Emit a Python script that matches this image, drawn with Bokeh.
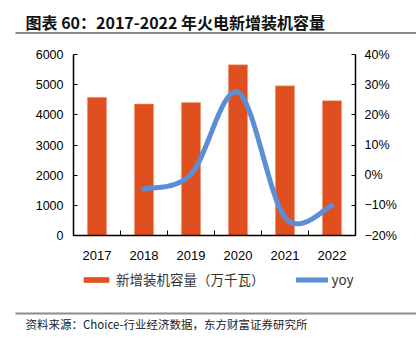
from bokeh.plotting import figure
from bokeh.layouts import column
from bokeh.models import (Range1d, LinearAxis, FixedTicker, Legend, LegendItem, ColumnDataSource)
from bokeh.core.properties import value
from bokeh.embed import file_html
from bokeh.resources import INLINE
import numpy as np

# ---- data ----
years = ["2017", "2018", "2019", "2020", "2021", "2022"]
capacity = [4580, 4360, 4410, 5660, 4960, 4470]          # 新增装机容量（万千瓦）
yoy_years = ["2018", "2019", "2020", "2021", "2022"]
yoy = [-4.6, 0.3, 27.5, -14.0, -10.1]                     # yoy (%)
left_ticks = [0, 1000, 2000, 3000, 4000, 5000, 6000]
right_ticks = [-20, -10, 0, 10, 20, 30, 40]
right_tick_labels = ["\u221220%", "\u221210%", "0%", "10%", "20%", "30%", "40%"]

title_text = "图表 60：2017-2022 年火电新增装机容量"
source_text = "资料来源：Choice-行业经济数据，东方财富证券研究所"
bar_name = "新增装机容量（万千瓦）"
line_name = "yoy"

BAR_COLOR = "#DF4F1F"
LINE_COLOR = "#5B8ED6"
FONT = "Liberation Sans"
CJK = "Noto Sans CJK SC"
W = 416

xpos = [years.index(y) + 0.5 for y in years]
yoy_x = [years.index(y) + 0.5 for y in yoy_years]


def smooth(xs, ys, n=30):
    """Excel-style (Catmull-Rom Bezier) smoothing of the given points, for drawing."""
    P = list(zip(xs, ys))
    out_x, out_y = [], []
    for i in range(len(P) - 1):
        p0 = P[i - 1] if i > 0 else P[i]
        p1 = P[i]
        p2 = P[i + 1]
        p3 = P[i + 2] if i + 2 < len(P) else P[i + 1]
        c1 = (p1[0] + (p2[0] - p0[0]) / 6, p1[1] + (p2[1] - p0[1]) / 6)
        c2 = (p2[0] - (p3[0] - p1[0]) / 6, p2[1] - (p3[1] - p1[1]) / 6)
        t = np.linspace(0, 1, n, endpoint=(i == len(P) - 2))
        a = (1 - t) ** 3
        b = 3 * (1 - t) ** 2 * t
        c = 3 * (1 - t) * t ** 2
        d = t ** 3
        out_x.extend(a * p1[0] + b * c1[0] + c * c2[0] + d * p2[0])
        out_y.extend(a * p1[1] + b * c1[1] + c * c2[1] + d * p2[1])
    return out_x, out_y


def blank(height):
    f = figure(width=W, height=height, x_range=Range1d(0, W), y_range=Range1d(height, 0),
               toolbar_location=None, output_backend="svg", frame_align=False,
               min_border=0, min_border_left=0, min_border_right=0,
               min_border_top=0, min_border_bottom=0)
    f.axis.visible = False
    f.grid.visible = False
    f.outline_line_color = None
    f.background_fill_color = "white"
    f.border_fill_color = "white"
    return f


# ---- title strip ----
top = blank(40)
top.text(x=[25], y=[21], text=[title_text], text_font=value(CJK), text_font_size="16px",
         text_font_style="bold", text_color="#111111", text_baseline="middle")
top.segment(x0=[15], y0=[32.5], x1=[W], y1=[32.5], line_color="#8C8C8C", line_width=2)

# ---- main chart ----
p = figure(width=W, height=225, x_range=Range1d(0, 6), y_range=Range1d(0, 6000),
           toolbar_location=None, output_backend="svg", frame_align=False,
           min_border_left=73, min_border_right=61, min_border_top=14, min_border_bottom=30)
p.outline_line_color = None
p.xgrid.visible = False
p.ygrid.visible = False
p.background_fill_color = "white"
p.border_fill_color = "white"
p.extra_y_ranges = {"yoy": Range1d(-20, 40)}

bar_src = ColumnDataSource(dict(x=xpos, top=capacity))
p.vbar(x="x", top="top", width=0.41, source=bar_src,
       fill_color=BAR_COLOR, line_color="#F2A88C", line_width=0.6)

sx, sy = smooth(yoy_x, yoy)
p.line(sx, sy, y_range_name="yoy", line_color=LINE_COLOR, line_width=5,
       line_cap="round", line_join="round")

xa = p.xaxis[0]
xa.ticker = FixedTicker(ticks=xpos, minor_ticks=list(range(len(years) + 1)))
xa.major_label_overrides = {xp: y for xp, y in zip(xpos, years)}
xa.major_tick_line_color = None
xa.minor_tick_in = 5
xa.minor_tick_out = 0
xa.minor_tick_line_color = "black"
xa.axis_line_color = "black"
xa.axis_line_width = 1.5
xa.major_label_text_font = FONT
xa.major_label_text_font_size = "13px"
xa.major_label_text_color = "black"
xa.major_label_standoff = 9

ya = p.yaxis[0]
ya.ticker = FixedTicker(ticks=left_ticks)
ya.major_tick_in = 4
ya.major_tick_out = 0
ya.minor_tick_line_color = None
ya.axis_line_color = "black"
ya.axis_line_width = 1.5
ya.major_tick_line_color = "black"
ya.major_label_text_font = FONT
ya.major_label_text_font_size = "12.5px"
ya.major_label_text_color = "black"
ya.major_label_standoff = 10

ra = LinearAxis(y_range_name="yoy", ticker=FixedTicker(ticks=right_ticks))
ra.major_label_overrides = {t: l for t, l in zip(right_ticks, right_tick_labels)}
ra.major_tick_in = 4
ra.major_tick_out = 0
ra.minor_tick_line_color = None
ra.axis_line_color = "black"
ra.axis_line_width = 1.5
ra.major_tick_line_color = "black"
ra.major_label_text_font = FONT
ra.major_label_text_font_size = "12.5px"
ra.major_label_text_color = "black"
ra.major_label_standoff = 9
p.add_layout(ra, "right")

# ---- legend + source strip ----
bot = blank(76)
# proxy renderers placed outside the visible range, used only for the legend glyphs
lg_bar = bot.vbar(x=[-100], top=[-100], bottom=[-110], width=1,
                  fill_color=BAR_COLOR, line_color=None)
lg_line = bot.line(x=[-100, -90], y=[-100, -100], line_color=LINE_COLOR, line_width=5,
                   line_cap="round")
legend = Legend(items=[LegendItem(label=bar_name, renderers=[lg_bar]),
                       LegendItem(label=line_name, renderers=[lg_line])],
                orientation="horizontal", location=(80, 52),
                glyph_width=32, glyph_height=7, label_height=14, label_standoff=4,
                spacing=31, padding=0, margin=0,
                border_line_color=None, background_fill_alpha=0,
                label_text_font=CJK, label_text_font_size="13.5px",
                label_text_color="#333333")
bot.add_layout(legend, "center")
bot.segment(x0=[15], y0=[48], x1=[W], y1=[48], line_color="#8C8C8C", line_width=2)
bot.text(x=[25], y=[58], text=[source_text], text_font=value(CJK), text_font_size="11.5px",
         text_color="#222222", text_baseline="middle")

layout = column(top, p, bot, spacing=0)
open("out.html", "w").write(file_html(layout, INLINE))
